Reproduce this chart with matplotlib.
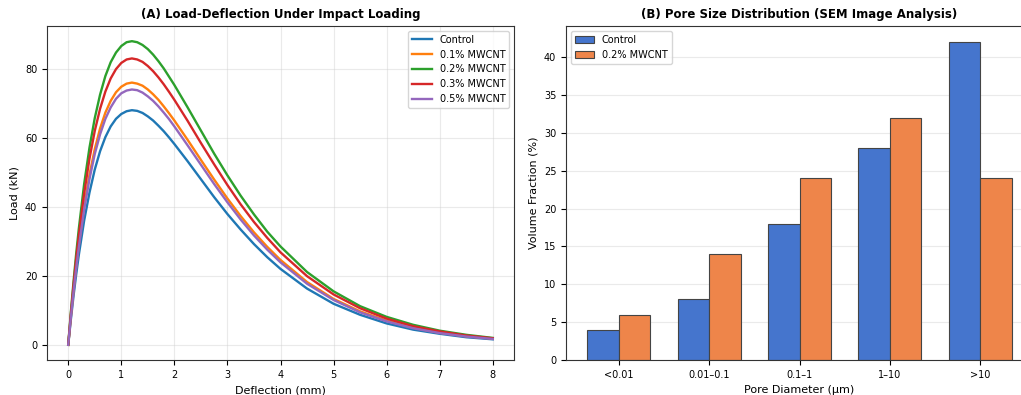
import matplotlib
matplotlib.use("Agg")
import matplotlib.pyplot as plt
import numpy as np

# Panel A: load-deflection curves
deflection = [0, 0.05, 0.1, 0.15, 0.2, 0.3, 0.4, 0.5, 0.6, 0.7, 0.8, 0.9, 1.0, 1.1, 1.2,
              1.3, 1.4, 1.5, 1.6, 1.7, 1.8, 1.9, 2.0, 2.25, 2.5, 2.75, 3.0, 3.25, 3.5,
              3.75, 4.0, 4.5, 5.0, 5.5, 6.0, 6.5, 7.0, 7.5, 8.0]
load_control = [0, 7.4, 14.2, 20.4, 26.1, 36.0, 44.1, 50.8, 56.1, 60.2, 63.3, 65.5, 66.9,
                67.7, 68.0, 67.8, 67.2, 66.2, 65.0, 63.5, 61.9, 60.1, 58.2, 53.2, 48.0,
                42.8, 37.9, 33.4, 29.2, 25.4, 22.0, 16.3, 11.9, 8.7, 6.2, 4.4, 3.2, 2.2, 1.6]
load_01 = [0, 8.3, 15.8, 22.8, 29.1, 40.2, 49.3, 56.7, 62.7, 67.3, 70.7, 73.2, 74.8,
           75.7, 76.0, 75.7, 75.1, 74.0, 72.6, 71.0, 69.1, 67.1, 65.0, 59.4, 53.6,
           47.9, 42.4, 37.3, 32.6, 28.4, 24.6, 18.2, 13.3, 9.7, 7.0, 5.0, 3.5, 2.5, 1.8]
load_02 = [0, 9.6, 18.3, 26.4, 33.7, 46.6, 57.1, 65.7, 72.5, 77.9, 81.9, 84.7, 86.6,
           87.7, 88.0, 87.7, 86.9, 85.7, 84.1, 82.2, 80.1, 77.7, 75.3, 68.8, 62.1,
           55.4, 49.1, 43.2, 37.8, 32.8, 28.5, 21.1, 15.5, 11.2, 8.1, 5.8, 4.1, 2.9, 2.0]
load_03 = [0, 9.0, 17.3, 24.9, 31.8, 43.9, 53.9, 62.0, 68.4, 73.4, 77.2, 79.9, 81.7,
           82.7, 83.0, 82.7, 82.0, 80.8, 79.3, 77.5, 75.5, 73.3, 71.0, 64.9, 58.5,
           52.3, 46.3, 40.7, 35.6, 31.0, 26.8, 19.9, 14.6, 10.6, 7.6, 5.4, 3.9, 2.7, 1.9]
load_05 = [0, 8.0, 15.4, 22.2, 28.4, 39.2, 48.0, 55.3, 61.0, 65.5, 68.8, 71.3, 72.9,
           73.7, 74.0, 73.8, 73.1, 72.0, 70.7, 69.1, 67.3, 65.4, 63.3, 57.8, 52.2,
           46.6, 41.3, 36.3, 31.7, 27.6, 23.9, 17.7, 13.0, 9.4, 6.8, 4.8, 3.4, 2.4, 1.7]
series_labels = ["Control", "0.1% MWCNT", "0.2% MWCNT", "0.3% MWCNT", "0.5% MWCNT"]

# Panel B: pore size distribution
pore_bins = ["<0.01", "0.01\u20130.1", "0.1\u20131", "1\u201310", ">10"]
pore_control = [4, 8, 18, 28, 42]
pore_mwcnt = [6, 14, 24, 32, 24]

fig = plt.figure(figsize=(10.21, 3.95), dpi=100)
ax1 = fig.add_axes([47 / 1021, 35 / 395, (514 - 47) / 1021, (369 - 35) / 395])
ax2 = fig.add_axes([566 / 1021, 35 / 395, (1033 - 566) / 1021, (369 - 35) / 395])

colors = ["#1f77b4", "#ff7f0e", "#2ca02c", "#d62728", "#9467bd"]
for y, lab, c in zip([load_control, load_01, load_02, load_03, load_05], series_labels, colors):
    ax1.plot(deflection, y, color=c, linewidth=1.7, label=lab)
ax1.set_title("(A) Load-Deflection Under Impact Loading", fontsize=8.5, fontweight="bold")
ax1.set_xlabel("Deflection (mm)", fontsize=8)
ax1.set_ylabel("Load (kN)", fontsize=8)
ax1.tick_params(labelsize=7)
ax1.grid(True, color="#cccccc", alpha=0.4, linewidth=0.8)
ax1.legend(fontsize=7, loc="upper right")

x = np.arange(len(pore_bins))
w = 0.35
ax2.bar(x - w / 2, pore_control, w, color="#4575cd", edgecolor="#444444", linewidth=0.8, label="Control")
ax2.bar(x + w / 2, pore_mwcnt, w, color="#ee854a", edgecolor="#444444", linewidth=0.8, label="0.2% MWCNT")
ax2.set_xticks(x)
ax2.set_xticklabels(pore_bins)
ax2.set_title("(B) Pore Size Distribution (SEM Image Analysis)", fontsize=8.5, fontweight="bold")
ax2.set_xlabel("Pore Diameter (\u03bcm)", fontsize=8)
ax2.set_ylabel("Volume Fraction (%)", fontsize=8)
ax2.tick_params(labelsize=7)
ax2.yaxis.grid(True, color="#cccccc", alpha=0.4, linewidth=0.8)
ax2.set_axisbelow(True)
ax2.legend(fontsize=7, loc="upper left")

for ax in (ax1, ax2):
    for s in ax.spines.values():
        s.set_color("#333333")

fig.savefig("out.png", dpi=100)
